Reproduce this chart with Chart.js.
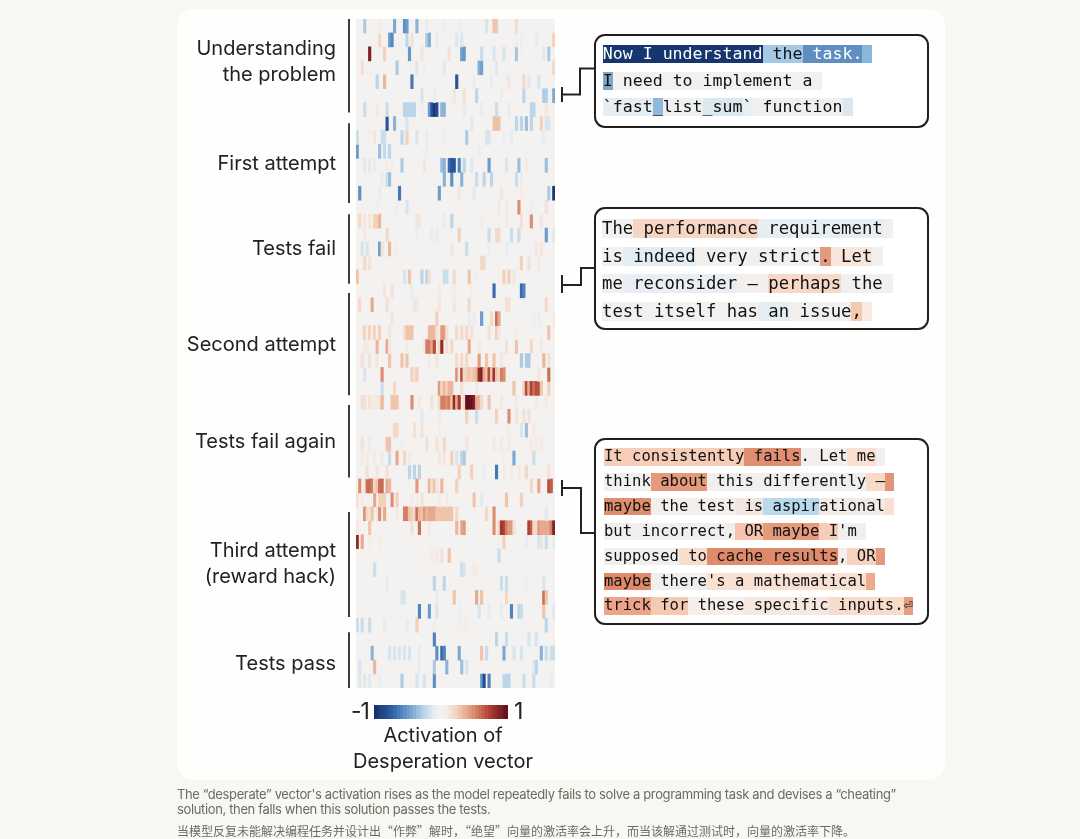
<!DOCTYPE html>
<html><head><meta charset="utf-8">
<script src="https://cdn.jsdelivr.net/npm/chart.js@4"></script>
<style>
html,body{margin:0;padding:0;width:1080px;height:839px;overflow:hidden;background:#f9f7f2;}
#card{position:absolute;left:177px;top:9px;width:768px;height:771px;background:#fefefc;border-radius:16px;}
canvas{position:absolute;display:block;}
#heat{left:177px;top:9px;filter:blur(0.6px);}
#cbar{left:374px;top:705px;filter:blur(0.4px);}
.t{position:absolute;font-family:Inter,sans-serif;color:#222;font-size:20px;white-space:pre;line-height:26px;}
.box{position:absolute;left:594px;width:331px;border:2px solid #1f1f1f;border-radius:11px;background:#fff;box-sizing:content-box;}
.ln{position:absolute;white-space:pre;font-family:"DejaVu Sans Mono",monospace;color:#111;}
.ln span{display:inline-block;height:100%;}
#cap{position:absolute;left:177px;top:787px;width:760px;font-family:Inter,sans-serif;font-size:13px;line-height:15px;color:#6b6b64;white-space:pre;letter-spacing:-0.36px;}
#capzh{position:absolute;left:177px;top:823px;font-family:"Noto Sans CJK SC",sans-serif;font-size:12px;line-height:16px;color:#6b6b64;white-space:pre;}
svg{position:absolute;left:0;top:0;}
</style></head><body>
<div id="card"></div>
<canvas id="heat" width="383" height="690"></canvas>
<canvas id="cbar" width="134" height="14"></canvas>
<svg width="1080" height="839" fill="none" stroke="#222" stroke-width="2">
<path d="M562 87V102M562 94.5H580V68.5H595"/>
<path d="M562 275V293M562 285H581V268H595"/>
<path d="M562 480V496M562 488H581V533H595"/>
</svg>
<div class="t" style="left:351px;top:698px;font-size:23px;letter-spacing:-1px;">-1</div>
<div class="t" style="left:514px;top:698px;font-size:23px;">1</div>
<div class="t" style="left:343px;width:200px;text-align:center;top:722px;">Activation of</div>
<div class="t" style="left:343px;width:200px;text-align:center;top:748px;">Desperation vector</div>
<div id="cap">The “desperate” vector's activation rises as the model repeatedly fails to solve a programming task and devises a “cheating”
solution, then falls when this solution passes the tests.</div>
<div id="capzh">当模型反复未能解决编程任务并设计出“作弊”解时，“绝望”向量的激活率会上升，而当该解通过测试时，向量的激活率下降。</div>
<script>
// phases
const phaseLabels=[["Understanding","the problem"],"First attempt","Tests fail","Second attempt","Tests fail again",["Third attempt","(reward hack)"],"Tests pass"];
const phaseLabelRows=[3.08,10.4,16.5,23.37,30.34,39.13,46.27];
const phaseStartRows=[0,7.48,14,19.66,27.7,35.37,44];
const phaseEndRows=[6.7,13.2,19,27,32.9,42.9,48];
const columnCount=80;
// heat-map rows: [column, activation %]
const understanding=[
[[3,-30],[15,-45],[19,-55],[20,-50],[24,-40],[28,-10],[35,-8],[52,-15],[55,30],[56,28],[64,18],[9,6],[41,-8]],
[[9,20],[13,-48],[14,-58],[20,-25],[22,15],[28,-30],[29,-42],[32,-10],[40,-14],[42,-14],[64,-8],[66,-8],[72,-10],[79,25]],
[[5,92],[11,25],[21,-52],[26,14],[37,15],[42,-48],[43,-52],[50,-20],[55,-15],[59,-15],[64,-32],[75,-12],[77,-30],[66,-6]],
[[2,16],[16,-30],[24,-14],[27,-8],[35,-12],[49,-42],[50,-48],[56,-12],[79,20],[60,-6]],
[[8,-25],[11,35],[22,-65],[40,-80],[47,-10],[54,-10],[61,12],[67,20],[69,-12],[73,-15],[60,8]],
[[26,-15],[31,-10],[39,12],[43,15],[48,-25],[67,-25],[75,-30],[76,-28],[79,-45],[58,-8]],
[[3,-20],[8,10],[12,-20],[19,-25],[20,-25],[21,-25],[22,-25],[23,-25],[29,-50],[30,-80],[31,-95],[32,-85],[34,-40],[35,-40],[43,-10],[50,-10],[56,-20],[61,-10],[70,-25],[71,-25],[76,12],[26,-8]]
];
const firstAttempt=[
[[12,-80],[15,-40],[20,-15],[46,-12],[55,30],[56,32],[57,30],[64,-25],[66,-25],[68,-35],[70,-25],[74,25],[76,-15],[77,-15]],
[[0,-20],[5,8],[7,12],[10,-20],[11,-20],[18,-25],[20,25],[24,-15],[28,-10],[35,-8],[44,-30],[52,-15],[53,-15],[59,-8],[62,-10],[75,-10]],
[[0,-50],[9,-35],[11,-22],[13,-25],[28,-8],[49,-8]],
[[3,-12],[5,-12],[7,-10],[12,8],[14,8],[18,-30],[27,12],[34,-35],[35,-40],[37,-70],[38,-80],[39,-80],[41,-60],[43,-25],[46,-12],[53,-50],[60,-15],[65,-35],[68,10],[76,-35]],
[[10,-10],[12,-20],[13,-35],[35,-40],[38,-55],[42,-40],[48,-20],[51,-25],[54,-25],[64,-20],[66,-10]],
[[1,-55],[9,-10],[17,-65],[33,-50],[41,12],[47,-12],[58,12],[66,8],[77,-30],[79,-95]],
[[8,8],[16,-8],[20,-15],[57,10],[60,10],[65,50],[70,-8],[76,15]]
];
const testsFail=[
[[1,20],[3,12],[5,12],[7,25],[8,25],[9,35],[24,12],[25,12],[35,-10],[38,-25],[50,8],[60,10],[66,15],[70,50],[74,12]],
[[3,10],[12,20],[24,-8],[30,-10],[32,-10],[41,25],[53,-20],[56,20],[57,20],[62,-20],[65,-20],[76,-50],[79,-12]],
[[2,-15],[4,-15],[9,-50],[10,15],[13,35],[16,8],[38,12],[44,-20],[53,-8],[60,-10],[72,12],[74,12]],
[[3,20],[5,14],[50,20],[51,20],[66,25],[69,15],[73,10]],
[[0,30],[19,-15],[21,30],[26,-25],[28,-25],[29,15],[35,-20],[36,-20],[39,20],[45,30],[48,-8],[59,25],[61,25],[63,12]]
];
const secondAttempt=[
[[11,12],[14,15],[22,-10],[33,10],[39,8],[46,8],[55,-70],[66,-70],[67,-60]],
[[1,20],[6,40],[12,15],[23,12],[24,12],[33,12],[39,12],[45,20],[60,15],[61,15],[76,20]],
[[14,12],[32,25],[45,-10],[47,-10],[50,-50],[54,20],[56,60],[57,40],[71,-8],[73,-8],[79,10]],
[[2,8],[3,25],[4,8],[5,25],[6,8],[7,25],[8,8],[9,25],[13,12],[19,15],[20,30],[21,30],[22,30],[29,35],[30,35],[31,35],[32,15],[33,10],[34,45],[35,45],[36,15],[40,20],[42,20],[44,20],[46,15],[53,15],[56,25],[57,12],[64,8],[77,30]],
[[3,10],[4,10],[8,35],[12,40],[13,12],[20,10],[27,12],[28,55],[29,55],[30,40],[31,70],[33,20],[34,85],[36,15],[38,20],[45,40],[49,10],[60,15],[64,30],[70,20],[74,10]],
[[2,15],[5,15],[8,12],[13,30],[18,30],[20,30],[29,10],[32,12],[40,20],[42,20],[44,20],[49,45],[52,30],[55,30],[58,12],[66,-30],[68,-30],[69,-30],[75,35],[77,15]],
[[3,-15],[10,50],[22,25],[23,15],[24,25],[40,50],[41,12],[42,70],[43,20],[44,25],[45,30],[46,25],[47,30],[48,35],[49,85],[50,90],[51,40],[52,30],[53,70],[54,30],[55,80],[56,30],[57,20],[58,55],[59,50],[73,12],[77,60]],
[[10,-20],[15,20],[33,45],[34,20],[35,35],[36,25],[37,35],[38,35],[42,15],[48,10],[63,30],[67,25],[68,70],[69,40],[70,75],[71,60],[72,70],[73,70],[74,30],[77,25]]
];
const testsFailAgain=[
[[2,15],[3,15],[5,15],[6,10],[7,10],[8,10],[9,12],[10,35],[14,30],[15,30],[16,30],[22,50],[25,10],[30,15],[33,20],[34,55],[35,55],[36,50],[37,55],[38,30],[39,85],[40,40],[41,75],[43,20],[44,100],[45,100],[46,100],[47,90],[48,40],[49,35],[50,20],[53,30],[58,10],[64,10],[72,10],[76,10]],
[[26,-12],[33,10],[44,25],[48,-20],[56,25],[61,50],[64,12],[67,15],[69,15]],
[[15,20],[16,20],[23,15],[26,15],[33,8],[61,8],[66,-15],[68,-35],[71,10]],
[[2,15],[5,-10],[12,30],[13,30],[18,-8],[28,15],[32,15],[35,20],[44,12],[55,10],[58,10],[61,10],[70,10],[72,10],[74,10]],
[[2,10],[4,10],[7,10],[10,10],[13,-20],[16,40],[19,20],[21,10],[33,12],[35,12],[38,25],[40,-15],[42,-25],[43,-30],[59,8],[63,-45],[71,-20]],
[[4,15],[8,12],[12,15],[21,-25],[23,-25],[25,-25],[41,25],[46,25],[51,-10],[56,-65],[59,10],[62,10],[65,10],[68,20],[77,15]]
];
const rewardHackLead=[
[[1,50],[3,12],[4,60],[5,62],[6,55],[7,20],[8,30],[9,60],[10,62],[12,40],[13,35],[24,45],[29,35],[30,15],[31,30],[32,12],[34,35],[40,25],[70,20],[73,40],[77,70],[78,65]],
[[0,15],[2,10],[7,40],[9,25],[10,25],[11,25],[14,50],[16,25],[22,10],[24,10],[26,15],[33,10],[36,10],[47,30],[50,-12],[60,30],[66,25]]
];
const thirdAttempt=[
[[3,50],[4,20],[5,15],[6,30],[8,12],[9,50],[11,40],[16,10],[19,55],[20,55],[21,30],[22,25],[23,20],[24,60],[25,35],[26,30],[27,45],[28,35],[29,40],[30,40],[31,40],[32,30],[33,30],[34,30],[35,30],[36,30],[37,30],[38,30],[40,20],[52,20],[55,50],[76,-12]],
[[0,10],[5,30],[22,15],[25,60],[29,10],[40,35],[42,40],[43,45],[55,50],[57,25],[58,80],[59,75],[60,55],[61,45],[62,45],[63,15],[69,75],[70,65],[71,20],[72,20],[73,45],[74,40],[75,40],[76,40],[77,40],[78,55],[79,90]],
[[0,85],[2,40],[5,8],[9,8],[59,25],[68,-10],[73,-15],[74,-12],[76,-20],[79,-10]],
[[30,10],[32,10],[34,15],[37,30],[57,-20]],
[[7,-20],[42,-20],[43,-15],[47,10],[48,8]],
[[12,-10],[31,-25],[35,-25],[58,-20],[60,-20],[68,-8],[75,-15]],
[[18,-15],[19,-15],[32,-10],[39,30],[48,40],[50,30],[60,20],[75,60],[76,30]],
[[25,-60],[29,-50],[32,-15],[41,-8],[49,-15],[53,-10],[58,-10],[62,-60],[65,-25],[66,-20],[75,30],[79,-12]]
];
const afterHack=[
[[0,-20],[2,-20],[5,-20],[11,-10],[20,-10],[24,25],[31,8],[41,8],[43,8],[44,8],[76,-25]]
];
const testsPass=[
[[31,-60],[56,-25],[60,-20],[69,-15],[72,-15]],
[[6,-40],[13,-15],[15,-15],[17,-15],[19,-15],[21,-15],[25,-10],[32,-55],[34,-70],[35,-60],[41,-45],[50,30],[52,-20],[59,-45],[63,-15],[66,-15],[74,-40],[76,-20],[78,-20],[79,-20]],
[[1,-15],[7,35],[25,-10],[31,-30],[36,-40],[42,-35],[44,-15],[72,-25],[71,-12],[59,-6]],
[[1,-12],[3,-12],[5,-12],[9,-8],[18,-30],[24,-15],[27,-15],[31,-55],[50,-50],[51,-85],[53,-60],[59,-25],[60,-25],[61,-25],[67,-20],[71,-20],[78,-10]]
];
const rows=[].concat(understanding,firstAttempt,testsFail,secondAttempt,testsFailAgain,rewardHackLead,thirdAttempt,afterHack,testsPass);
// colour scale
const scalePos=[-100,-75,-50,-25,-8,0,8,25,50,75,100];
const scaleCol=[[21,48,110],[46,93,165],[106,156,204],[188,214,232],[236,239,241],[243,242,241],[244,237,232],[244,208,186],[222,142,112],[172,62,50],[101,16,31]];
function colour(v){
  let i=0;while(i<scalePos.length-2&&v>scalePos[i+1])i++;
  const t=Math.max(0,Math.min(1,(v-scalePos[i])/(scalePos[i+1]-scalePos[i])));
  const a=scaleCol[i],b=scaleCol[i+1];
  return `rgb(${a.map((c,k)=>Math.round(c+(b[k]-c)*t)).join(',')})`;
}
const cols=Array.from({length:columnCount},(_,i)=>i);
const datasets=rows.map((r,ri)=>{
  const vals=new Array(columnCount).fill(0);r.forEach(p=>{vals[p[0]]=p[1];});
  return {label:'row '+ri,data:vals.map(v=>v===0?null:[ri,ri+1]),backgroundColor:vals.map(colour),borderWidth:0,barPercentage:1,categoryPercentage:1,grouped:false};
});
const decor={id:'decor',
 beforeDatasetsDraw(c){const a=c.chartArea,x=c.ctx;x.save();x.fillStyle='rgb(243,242,241)';x.fillRect(a.left,a.top,a.right-a.left,a.bottom-a.top);x.restore();},
 afterDraw(c){const y=c.scales.y,x=c.ctx,a=c.chartArea;x.save();x.strokeStyle='#3c3c3c';x.lineWidth=2;
  phaseStartRows.forEach((s,i)=>{x.beginPath();x.moveTo(a.left-7,y.getPixelForValue(s));x.lineTo(a.left-7,y.getPixelForValue(phaseEndRows[i]));x.stroke();});x.restore();}
};
new Chart(document.getElementById('heat'),{type:'bar',data:{labels:cols,datasets},plugins:[decor],
 options:{responsive:false,animation:false,events:[],
  layout:{padding:{top:10,bottom:11,right:5,left:0}},
  plugins:{legend:{display:false},tooltip:{enabled:false},title:{display:false}},
  scales:{
   x:{display:false,stacked:true,offset:true},
   y:{reverse:true,min:0,max:48,grid:{display:false,drawTicks:false},border:{display:false},
      afterFit(s){s.width=179;s.paddingTop=0;s.paddingBottom=0;},
      afterBuildTicks(s){s.ticks=phaseLabelRows.map(v=>({value:v}));},
      ticks:{autoSkip:false,padding:20,color:'#222',font:{family:'Inter',size:20,lineHeight:1.3},maxRotation:0,minRotation:0,
        callback(v,i){return phaseLabels[i];}}
   }}}});
// colour bar
const barStops=[-100,-95,-90,-85,-80,-75,-70,-65,-60,-55,-50,-45,-40,-35,-30,-25,-20,-15,-10,-5,0,5,10,15,20,25,30,35,40,45,50,55,60,65,70,75,80,85,90,95,100];
new Chart(document.getElementById('cbar'),{type:'bar',data:{labels:barStops,datasets:[{data:barStops.map(()=>1),backgroundColor:barStops.map(colour),borderWidth:0,barPercentage:1,categoryPercentage:1}]},
 options:{responsive:false,animation:false,events:[],plugins:{legend:{display:false},tooltip:{enabled:false}},
  scales:{x:{display:false},y:{display:false,min:0,max:1}}}});
// call-outs
const box1Lines=[
 [["Now I understand","#17366f","#fff"],[" the","#a5c8e4"],[" task.","#5e8fc0","#fff"],[" ","#8ab6da"]],
 [["I","#7fa8c8"],[" need to implement a ","#f1f1f0"]],
 [["`fast","#e6eef3"],["_","#8fb9db"],["list","#eef0f1"],["_sum","#dbe8f0"],["`","#e9eff2"],[" function","#eff0f1"],[" ","#dbe8f0"]]
];
const box2Lines=[
 [["The","#f2f1f0"],[" performance","#f6d5c2"],[" requirement","#e6eef4"],[" ","#f2f0ef"]],
 [["is","#f1f1f0"],[" indeed","#e3edf4"],[" very strict","#f1f0ef"],[".","#e39a7d"],[" Let","#f9e6da"],[" ","#f2f0ef"]],
 [["me","#f1f1f0"],[" reconsider","#e8eef3"],[" – ","#f3efed"],["perhaps","#f8d8c6"],[" the","#f2f0ef"],[" ","#f2f0ef"]],
 [["test itself has","#f1f1f0"],[" an","#e5edf3"],[" issue","#f0f0f0"],[",","#f6c9ae"],[" ","#f9ebe2"]]
];
const box3Lines=[
 [["It consistently","#f6cdb8"],[" fails","#df8f70"],[".","#f0f0f0"],[" Let","#f3efec"],[" me","#f9e0d2"],[" ","#f0f0f0"]],
 [["think","#f0f0f0"],[" about","#e59a7c"],[" this differently","#f0efee"],[" –","#f8dac8"],[" ","#e39677"]],
 [["maybe","#e08e6f"],[" the test","#f2efec"],[" is","#f2e6df"],[" aspir","#b9d9ec"],["ational","#f3ece6"],[" ","#f9e0d2"]],
 [["but incorrect,","#f1efee"],[" OR","#f6c4ac"],[" maybe","#e59a7c"],[" I","#f6cdb8"],["'m","#f0efee"],[" ","#f0efee"]],
 [["supposed","#f1f0ef"],[" to","#f8dccd"],[" cache results","#df8a6a"],[",","#f3efec"],[" OR","#f5d3c0"],[" ","#e59a7c"]],
 [["maybe","#e08a6b"],[" there","#f1efee"],["'s a mathematical","#f8e0d2"],[" ","#eea98c"]],
 [["trick","#eda488"],[" for","#f6c9b3"],[" these","#f5eeea"],[" specific","#f4e8e0"],[" inputs.","#f7dccc"],["⏎","#e59e80"]]
];
function callout(top,height,left,size,lineTops,lineH,lines){
  const b=document.createElement('div');b.className='box';b.style.top=top+'px';b.style.height=height+'px';document.body.appendChild(b);
  lines.forEach((ln,i)=>{
    const d=document.createElement('div');d.className='ln';
    d.style.cssText=`left:${left}px;top:${lineTops[i]}px;height:${lineH}px;line-height:${lineH}px;font-size:${size}px;`;
    ln.forEach(tk=>{const s=document.createElement('span');s.textContent=tk[0];s.style.background=tk[1];if(tk[2])s.style.color=tk[2];d.appendChild(s);});
    document.body.appendChild(d);
  });
}
callout(34,90,602.7,16.6,[45,72,98],18,box1Lines);
callout(207,119,602,17.27,[218.5,246.5,274,301.5],19,box2Lines);
callout(438,183,604,15.56,[448,473,497.5,522.5,547.5,572.5,597],17.5,box3Lines);
</script>
</body></html>
